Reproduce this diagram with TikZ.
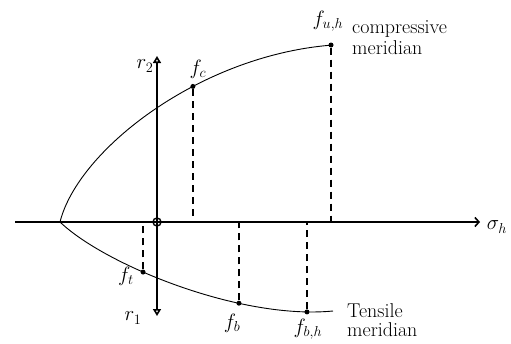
\documentclass[tikz,border=0pt]{standalone}
\usepackage{amsmath,amssymb}
\usetikzlibrary{calc,arrows.meta}
\tikzset{
  axis/.style={line width=1.6pt},
  meridian/.style={line width=0.9pt},
  proj/.style={line width=1.5pt,dash pattern=on 7pt off 5pt},
  lbl/.style={font=\fontsize{20}{22}\selectfont,inner sep=0pt},
  pt/.style={circle,fill,inner sep=0pt,minimum size=5pt}
}
\begin{document}
\begin{tikzpicture}[x=1pt,y=-1pt,>=Stealth]
      \useasboundingbox (0,0) rectangle (511,343);
      % axes
      \coordinate (O) at (157,222);
      \coordinate (xl) at (15,222);
      \coordinate (xr) at (480,222);
      \coordinate (yt) at (157,56);
      \coordinate (yb) at (157,316);
      \draw[axis,-{Straight Barb[length=4pt,width=9pt]}] (xl) -- (xr);
      \node[lbl] (sh) at (497,227) {$\sigma_h$};
      \draw[axis,{Triangle[open,length=7pt,width=8pt]}-{Triangle[open,length=7pt,width=8pt]}] (yb) -- (yt);
      \node[lbl] (r2) at (145,66) {$r_2$};
      \node[lbl] (r1) at (133,318) {$r_1$};
      \draw[line width=1.4pt] (O) circle (4pt);
      % meridians
      \coordinate (apex) at (60,222);
      \draw[meridian] (apex) .. controls (78,150) and (200,55) .. (333,45)
        coordinate[pos=0.625] (fcp) coordinate[pos=1] (fuhp);
      \draw[meridian] (apex) .. controls (105,265) and (240,320) .. (333,311)
        coordinate[pos=0.38] (ftp) coordinate[pos=0.69] (fbp) coordinate[pos=0.91] (fbhp);
      % points on the meridians
      \node[pt] (fc) at (fcp) {};
      \node[pt] (fuh) at ($(fuhp)+(-2,0)$) {};
      \node[pt] (ft) at (ftp) {};
      \node[pt] (fb) at ($(fbp)+(0.6,0)$) {};
      \node[pt] (fbh) at (fbhp) {};
      \draw[proj] (fc) -- (fc |- O);
      \draw[proj] (fuh) -- (fuh |- O);
      \draw[proj] (ft) -- (ft |- O);
      \draw[proj] (fb) -- (fb |- O);
      \draw[proj] (fbh) -- (fbh |- O);
      % labels
      \node[lbl] at (198,69) {$f_c$};
      \node[lbl] at (328,21) {$f_{u,h}$};
      \node[lbl,anchor=west] at (352,29) {compressive};
      \node[lbl,anchor=west] at (352,48) {meridian};
      \node[lbl] at (126,276) {$f_t$};
      \node[lbl] at (232,323) {$f_b$};
      \node[lbl] at (308,329) {$f_{b,h}$};
      \node[lbl,anchor=west] at (347,311) {Tensile};
      \node[lbl,anchor=west] at (347,330) {meridian};
    \end{tikzpicture}
\end{document}
